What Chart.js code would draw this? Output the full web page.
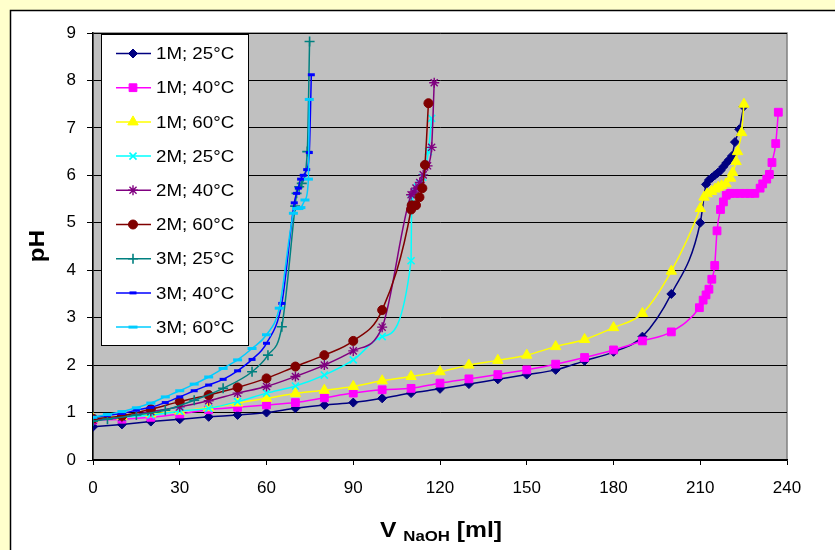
<!DOCTYPE html>
<html><head><meta charset="utf-8">
<script src="https://cdn.jsdelivr.net/npm/chart.js@4/dist/chart.umd.min.js"></script>
<style>html,body{margin:0;padding:0;background:#FFFFCC;overflow:hidden}#wrap{width:835px;height:550px;position:relative}</style>
</head><body><div id="wrap"><canvas id="c" width="835" height="550"></canvas></div>
<script>
// ---- data ----
const seriesLabels = ['1M; 25°C','1M; 40°C','1M; 60°C','2M; 25°C','2M; 40°C','2M; 60°C','3M; 25°C','3M; 40°C','3M; 60°C'];
const xTicks = [0,30,60,90,120,150,180,210,240];
const yTicks = [0,1,2,3,4,5,6,7,8,9];

const v1M25 = [0,10,20,30,40,50,60,70,80,90,100,110,120,130,140,150,160,170,180,190,200,210,212,213,214,215,216,217,218,219,220,221,222,223.5,225];
const pH1M25 = [0.7,0.75,0.81,0.86,0.91,0.95,1.0,1.09,1.16,1.21,1.3,1.41,1.5,1.6,1.7,1.8,1.9,2.09,2.28,2.6,3.5,5.0,5.81,5.9,5.95,6.0,6.05,6.1,6.18,6.26,6.33,6.41,6.7,6.97,7.45];

const v1M40 = [0,10,20,30,40,50,60,70,80,90,100,110,120,130,140,150,160,170,180,190,200,209.7,211,212,213,214,215,215.8,217,218,219,220.3,222,223.7,225.5,227.2,228.9,230.7,231.6,233,233.9,234.8,236.1,237];
const pH1M40 = [0.84,0.86,0.9,0.97,1.06,1.11,1.16,1.21,1.31,1.41,1.48,1.51,1.62,1.71,1.8,1.9,2.02,2.16,2.32,2.51,2.7,3.21,3.37,3.48,3.6,3.81,4.1,4.83,5.28,5.44,5.58,5.62,5.62,5.62,5.62,5.62,5.62,5.73,5.82,5.92,6.02,6.27,6.67,7.33];

const v1M60 = [0,10,20,30,40,50,60,70,80,90,100,110,120,130,140,150,160,170,180,190,200,210,211.3,212.4,213.9,215.1,216.2,217.4,218.9,220.5,221.2,222.4,222.9,224.3,225.1];
const pH1M60 = [0.87,0.92,0.97,1.03,1.1,1.2,1.3,1.4,1.47,1.55,1.67,1.76,1.86,2.0,2.1,2.21,2.39,2.54,2.79,3.09,3.98,5.3,5.54,5.61,5.66,5.71,5.75,5.78,5.82,5.94,6.06,6.29,6.5,6.9,7.5];

const v2M25 = [0,10,20,30,40,50,60,70,80,90,100,110,110.2,111.4,112.2,113.1,114,116,117.1];
const pH2M25 = [0.88,0.9,0.95,1.03,1.09,1.23,1.41,1.56,1.79,2.11,2.6,4.2,5.5,5.66,5.75,5.83,5.96,6.5,7.2];

const v2M40 = [0,10,20,30,40,50,60,70,80,90,100,110,111,111.7,113,114.2,115.7,117.1,118];
const pH2M40 = [0.84,0.9,1.02,1.12,1.25,1.41,1.55,1.76,2.0,2.3,2.8,5.59,5.65,5.73,5.85,6.01,6.2,6.59,7.95];

const v2M60 = [0,10,20,30,40,50,60,70,80,90,100,110,110.2,111.7,112.9,113.9,114.8,116];
const pH2M60 = [0.87,0.93,1.07,1.23,1.37,1.53,1.72,1.97,2.21,2.51,3.16,5.28,5.37,5.37,5.54,5.73,6.22,7.52];

const v3M25 = [0,5,15,25,35,45,55,60.5,65.3,69.9,70.4,71.3,72.2,74.1,74.9];
const pH3M25 = [0.82,0.86,0.95,1.05,1.26,1.51,1.86,2.21,2.81,5.35,5.62,5.76,5.83,6.5,8.82];

const v3M40 = [0,5,10,15,20,25,30,35,40,45,50,55,60,65.3,69.6,70.4,71,71.8,72.7,73.9,74.8,75.5];
const pH3M40 = [0.9,0.94,0.98,1.05,1.11,1.21,1.33,1.46,1.58,1.7,1.88,2.12,2.46,3.3,5.42,5.62,5.73,5.92,6.0,6.12,6.48,8.12];

const v3M60 = [0,5,10,15,20,25,30,35,40,45,50,55,60,64.4,69.3,70.4,71.2,71.9,73.3,74.5,74.8];
const pH3M60 = [0.9,0.96,1.02,1.1,1.2,1.33,1.46,1.6,1.75,1.93,2.11,2.35,2.64,3.2,5.2,5.3,5.3,5.32,5.48,5.92,7.6];

// ---- styles ----
const FONT = "'Liberation Sans', Arial, sans-serif";
const styles = [
  {c:'#000080', ps:'rectRot', r:4.5, fill:true, bw:1},
  {c:'#FF00FF', ps:'rect', r:5.5, fill:true, bw:1},
  {c:'#FFFF00', ps:'triangle', r:6, fill:true, bw:1},
  {c:'#00FFFF', ps:'crossRot', r:5, fill:false, bw:1.6},
  {c:'#800080', ps:'star', r:5, fill:false, bw:1.4},
  {c:'#800000', ps:'circle', r:4.5, fill:true, bw:1},
  {c:'#008080', ps:'cross', r:5, fill:false, bw:1.6},
  {c:'#0000FF', ps:'line', r:3.5, fill:false, bw:3},
  {c:'#00CCFF', ps:'line', r:4.5, fill:false, bw:3}
];
const xs = [v1M25,v1M40,v1M60,v2M25,v2M40,v2M60,v3M25,v3M40,v3M60];
const ys = [pH1M25,pH1M40,pH1M60,pH2M25,pH2M40,pH2M60,pH3M25,pH3M40,pH3M60];

const datasets = seriesLabels.map((lab,i)=>{
  const s = styles[i];
  return {
    label: lab,
    data: xs[i].map((x,k)=>({x:x, y:ys[i][k]})),
    showLine: true,
    borderColor: s.c,
    backgroundColor: s.c,
    borderWidth: 1.5,
    cubicInterpolationMode: 'monotone',
    pointStyle: s.ps,
    pointRadius: s.r,
    pointHoverRadius: s.r,
    pointBackgroundColor: s.fill ? s.c : 'rgba(0,0,0,0)',
    pointBorderColor: s.c,
    pointBorderWidth: s.bw,
    order: 8 - i
  };
});

function drawMarker(ctx, s, x, y){
  if (window.Chart && Chart.helpers && Chart.helpers.drawPoint) {
    ctx.save();
    ctx.fillStyle = s.fill ? s.c : 'rgba(0,0,0,0)';
    ctx.strokeStyle = s.c;
    ctx.lineWidth = s.bw;
    Chart.helpers.drawPoint(ctx, {pointStyle:s.ps, radius:s.r, rotation:0, borderWidth:s.bw}, x, y);
    ctx.restore();
  }
}

function stretchedText(ctx, txt, x, y, sx){
  ctx.save();
  ctx.translate(x, y);
  ctx.scale(sx, 1);
  ctx.fillText(txt, 0, 0);
  ctx.restore();
}

const framePlugin = {
  id: 'frame',
  beforeDraw(chart){
    const ctx = chart.ctx, a = chart.chartArea;
    ctx.save();
    ctx.fillStyle = '#FFFFCC';
    ctx.fillRect(0,0,835,550);
    ctx.fillStyle = '#FFFFFF';
    ctx.fillRect(10,10,830,545);
    ctx.strokeStyle = '#000';
    ctx.lineWidth = 1.5;
    ctx.beginPath();
    ctx.moveTo(10.5,551); ctx.lineTo(10.5,10.5); ctx.lineTo(836,10.5);
    ctx.stroke();
    ctx.fillStyle = '#C0C0C0';
    ctx.fillRect(a.left, a.top, a.right-a.left, a.bottom-a.top);
    ctx.strokeStyle = '#808080';
    ctx.lineWidth = 1.5;
    ctx.strokeRect(a.left, a.top, a.right-a.left, a.bottom-a.top);
    ctx.restore();
  },
  afterDraw(chart){
    const ctx = chart.ctx;
    ctx.save();
    // legend box
    ctx.fillStyle = '#FFFFFF';
    ctx.fillRect(101,34,147,311);
    ctx.strokeStyle = '#000';
    ctx.lineWidth = 1;
    ctx.strokeRect(101.5,34.5,147,311);
    ctx.font = '17px ' + FONT;
    ctx.textBaseline = 'middle';
    ctx.textAlign = 'left';
    seriesLabels.forEach((lab,i)=>{
      const y = 53.5 + i*34.2;
      const s = styles[i];
      ctx.strokeStyle = s.c;
      ctx.lineWidth = 1.5;
      ctx.beginPath(); ctx.moveTo(116,y); ctx.lineTo(151,y); ctx.stroke();
      drawMarker(ctx, s, 133, y);
      ctx.fillStyle = '#000';
      stretchedText(ctx, lab, 156, y+1, 1.1);
    });
    // y title
    ctx.save();
    ctx.translate(38, 246);
    ctx.rotate(-Math.PI/2);
    ctx.scale(1.1, 1);
    ctx.font = 'bold 22px ' + FONT;
    ctx.textAlign = 'center';
    ctx.textBaseline = 'middle';
    ctx.fillStyle = '#000';
    ctx.fillText('pH', 0, 0);
    ctx.restore();
    // x title with subscript
    const sx = 1.12;
    const big = 'bold 22px ' + FONT, small = 'bold 15px ' + FONT;
    ctx.font = big; const wV = ctx.measureText('V ').width * sx; const wM = ctx.measureText(' [ml]').width * sx;
    ctx.font = small; const wN = ctx.measureText('NaOH').width * sx;
    const total = wV + wN + wM;
    let x0 = 441 - total/2;
    const base = 537;
    ctx.textBaseline = 'alphabetic';
    ctx.fillStyle = '#000';
    ctx.font = big; stretchedText(ctx, 'V ', x0, base, sx); x0 += wV;
    ctx.font = small; stretchedText(ctx, 'NaOH', x0, base+4, sx); x0 += wN;
    ctx.font = big; stretchedText(ctx, ' [ml]', x0, base, sx);
    ctx.restore();
  }
};

new Chart(document.getElementById('c'), {
  type: 'scatter',
  data: { datasets },
  options: {
    responsive: false,
    animation: false,
    devicePixelRatio: 1,
    layout: { padding: { left: 0, right: 48, top: 33, bottom: 0 } },
    plugins: { legend: { display: false }, tooltip: { enabled: false } },
    scales: {
      x: {
        type: 'linear', min: 0, max: 240,
        afterBuildTicks(scale){ scale.ticks = xTicks.map(v=>({value:v})); },
        afterFit(scale){ scale.height = 90; },
        ticks: { font: { family: FONT, size: 17 }, color: '#000', padding: 13, maxRotation: 0 },
        grid: { drawOnChartArea: false, drawTicks: true, tickLength: 5, color: '#000' },
        border: { color: '#000', width: 1.5 }
      },
      y: {
        type: 'linear', min: 0, max: 9,
        afterBuildTicks(scale){ scale.ticks = yTicks.map(v=>({value:v})); },
        afterFit(scale){ scale.width = 93; },
        ticks: { font: { family: FONT, size: 17 }, color: '#000', padding: 11 },
        grid: { color: '#000', lineWidth: 1, tickLength: 6 },
        border: { color: '#000', width: 1.5 }
      }
    }
  },
  plugins: [framePlugin]
});
</script></body></html>
